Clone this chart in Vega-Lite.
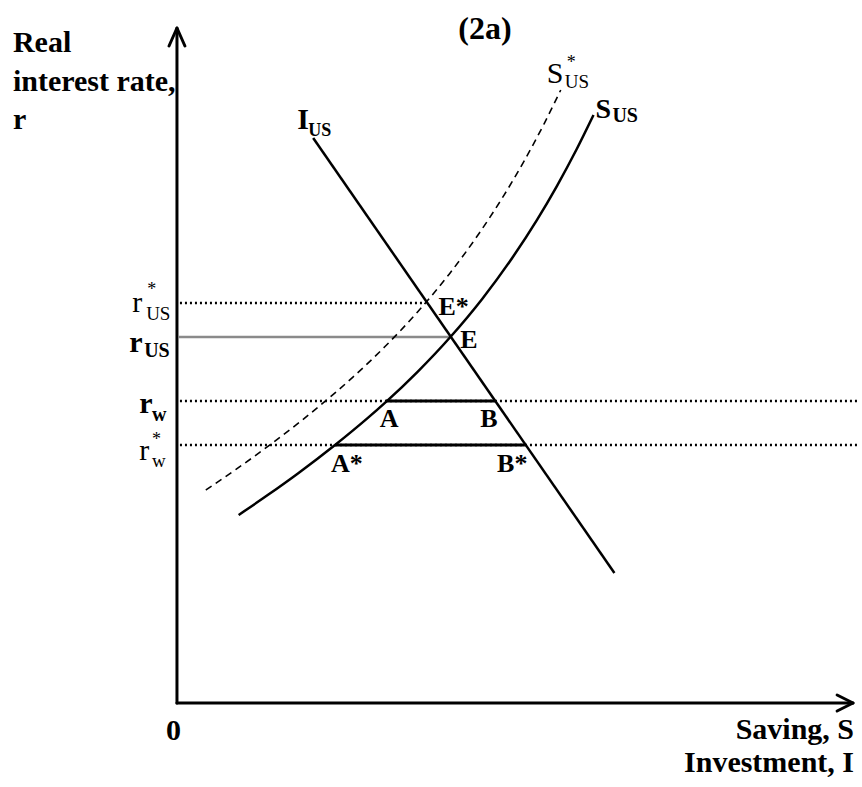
{
  "$schema": "https://vega.github.io/schema/vega-lite/v6.json",
  "width": 862,
  "height": 787,
  "autosize": {"type": "fit", "contains": "padding"},
  "padding": 0,
  "background": "white",
  "config": {"view": {"stroke": null}},
  "encoding": {
    "x": {"field": "x", "type": "quantitative", "axis": null, "scale": {"domain": [-178, 684], "nice": false, "zero": false}},
    "y": {"field": "y", "type": "quantitative", "axis": null, "scale": {"domain": [-84, 703], "nice": false, "zero": false}}
  },
  "layer": [
    {
      "data": {"values": [
        {"seg": "r*US", "x": 3, "y": 400}, {"seg": "r*US", "x": 250, "y": 400},
        {"seg": "rw", "x": 3, "y": 302}, {"seg": "rw", "x": 684, "y": 302},
        {"seg": "r*w", "x": 3, "y": 258}, {"seg": "r*w", "x": 684, "y": 258}
      ]},
      "mark": {"type": "line", "color": "black", "strokeWidth": 2.5, "strokeDash": [2, 3]},
      "encoding": {"detail": {"field": "seg"}}
    },
    {
      "data": {"values": [
        {"seg": "rUS", "x": 2, "y": 366}, {"seg": "rUS", "x": 275, "y": 366}
      ]},
      "mark": {"type": "line", "color": "#8a8a8a", "strokeWidth": 2.5},
      "encoding": {"detail": {"field": "seg"}}
    },
    {
      "data": {"values": [
        {"seg": "AB", "x": 210, "y": 302}, {"seg": "AB", "x": 320, "y": 302},
        {"seg": "A*B*", "x": 159, "y": 258}, {"seg": "A*B*", "x": 350, "y": 258}
      ]},
      "mark": {"type": "line", "color": "black", "strokeWidth": 3},
      "encoding": {"detail": {"field": "seg"}}
    },
    {
      "data": {"values": [
        {"x": 29, "y": 213}, {"x": 59, "y": 233.4}, {"x": 89, "y": 254.8}, {"x": 126, "y": 283},
        {"x": 159, "y": 310.1}, {"x": 177, "y": 325.9}, {"x": 209, "y": 356.2}, {"x": 242, "y": 391},
        {"x": 274, "y": 429.1}, {"x": 304, "y": 469.8}, {"x": 329, "y": 507.9}, {"x": 349, "y": 541.7},
        {"x": 369, "y": 578.7}, {"x": 386, "y": 613}
      ]},
      "mark": {"type": "line", "color": "black", "strokeWidth": 1.6, "strokeDash": [7, 5], "interpolate": "monotone"},
      "encoding": {}
    },
    {
      "data": {"values": [
        {"seg": "S", "x": 62, "y": 188}, {"seg": "S", "x": 92, "y": 208.4}, {"seg": "S", "x": 122, "y": 229.8},
        {"seg": "S", "x": 159, "y": 258}, {"seg": "S", "x": 192, "y": 285.1}, {"seg": "S", "x": 210, "y": 300.9},
        {"seg": "S", "x": 242, "y": 331.2}, {"seg": "S", "x": 275, "y": 366}, {"seg": "S", "x": 307, "y": 404.1},
        {"seg": "S", "x": 337, "y": 444.8}, {"seg": "S", "x": 362, "y": 482.9}, {"seg": "S", "x": 382, "y": 516.7},
        {"seg": "S", "x": 402, "y": 553.7}, {"seg": "S", "x": 419, "y": 588},
        {"seg": "I", "x": 137, "y": 565}, {"seg": "I", "x": 440, "y": 130}
      ]},
      "mark": {"type": "line", "color": "black", "strokeWidth": 2.5, "interpolate": "monotone"},
      "encoding": {"detail": {"field": "seg"}}
    },
    {
      "data": {"values": [
        {"seg": "yaxis", "x": 0, "y": 0}, {"seg": "yaxis", "x": 0, "y": 674},
        {"seg": "xaxis", "x": 0, "y": 0}, {"seg": "xaxis", "x": 679, "y": 0},
        {"seg": "ya1", "x": -8, "y": 657}, {"seg": "ya1", "x": 0, "y": 675},
        {"seg": "ya2", "x": 0, "y": 675}, {"seg": "ya2", "x": 8, "y": 657},
        {"seg": "xa1", "x": 664, "y": 8}, {"seg": "xa1", "x": 680, "y": 0},
        {"seg": "xa2", "x": 664, "y": -8}, {"seg": "xa2", "x": 680, "y": 0}
      ]},
      "mark": {"type": "line", "color": "black", "strokeWidth": 3, "strokeCap": "round"},
      "encoding": {"detail": {"field": "seg"}}
    },
    {
      "data": {"values": [
        {"x": 283, "y": 664, "t": "(2a)"}
      ]},
      "mark": {"type": "text", "font": "Liberation Serif", "fontWeight": "bold", "fontSize": 32, "align": "left", "baseline": "alphabetic", "color": "black"},
      "encoding": {"text": {"field": "t"}}
    },
    {
      "data": {"values": [
        {"x": -165, "y": 651, "t": "Real"},
        {"x": -165, "y": 612, "t": "interest rate,"},
        {"x": -165, "y": 574, "t": "r"},
        {"x": -11, "y": -37, "t": "0"},
        {"x": 121, "y": 574, "t": "I"},
        {"x": -48, "y": 351, "t": "r"},
        {"x": -38, "y": 290, "t": "r"}
      ]},
      "mark": {"type": "text", "font": "Liberation Serif", "fontWeight": "bold", "fontSize": 30, "align": "left", "baseline": "alphabetic", "color": "black"},
      "encoding": {"text": {"field": "t"}}
    },
    {
      "data": {"values": [
        {"x": 421, "y": 585, "t": "S"}
      ]},
      "mark": {"type": "text", "font": "Liberation Serif", "fontWeight": "bold", "fontSize": 28, "align": "left", "baseline": "alphabetic", "color": "black"},
      "encoding": {"text": {"field": "t"}}
    },
    {
      "data": {"values": [
        {"x": 681, "y": -36, "t": "Saving, S"},
        {"x": 681, "y": -69, "t": "Investment, I"}
      ]},
      "mark": {"type": "text", "font": "Liberation Serif", "fontWeight": "bold", "fontSize": 30, "align": "right", "baseline": "alphabetic", "color": "black"},
      "encoding": {"text": {"field": "t"}}
    },
    {
      "data": {"values": [
        {"x": 372, "y": 620, "t": "S"},
        {"x": -45, "y": 391, "t": "r"},
        {"x": -38, "y": 243, "t": "r"}
      ]},
      "mark": {"type": "text", "font": "Liberation Serif", "fontSize": 30, "align": "left", "baseline": "alphabetic", "color": "black"},
      "encoding": {"text": {"field": "t"}}
    },
    {
      "data": {"values": [
        {"x": 438, "y": 581, "t": "US"},
        {"x": -33, "y": 346, "t": "US"},
        {"x": -25, "y": 282, "t": "w"}
      ]},
      "mark": {"type": "text", "font": "Liberation Serif", "fontWeight": "bold", "fontSize": 20, "align": "left", "baseline": "alphabetic", "color": "black"},
      "encoding": {"text": {"field": "t"}}
    },
    {
      "data": {"values": [
        {"x": 132, "y": 567, "t": "US"}
      ]},
      "mark": {"type": "text", "font": "Liberation Serif", "fontWeight": "bold", "fontSize": 18, "align": "left", "baseline": "alphabetic", "color": "black"},
      "encoding": {"text": {"field": "t"}}
    },
    {
      "data": {"values": [
        {"x": 390, "y": 615, "t": "US"},
        {"x": -31, "y": 383, "t": "US"},
        {"x": -25, "y": 236, "t": "w"}
      ]},
      "mark": {"type": "text", "font": "Liberation Serif", "fontSize": 19, "align": "left", "baseline": "alphabetic", "color": "black"},
      "encoding": {"text": {"field": "t"}}
    },
    {
      "data": {"values": [
        {"x": 392, "y": 635, "t": "*"},
        {"x": -30, "y": 408, "t": "*"},
        {"x": -25, "y": 258, "t": "*"}
      ]},
      "mark": {"type": "text", "font": "Liberation Serif", "fontSize": 18, "align": "left", "baseline": "alphabetic", "color": "black"},
      "encoding": {"text": {"field": "t"}}
    },
    {
      "data": {"values": [
        {"x": 263, "y": 388, "t": "E*"},
        {"x": 285, "y": 355, "t": "E"},
        {"x": 204, "y": 276, "t": "A"},
        {"x": 305, "y": 276, "t": "B"},
        {"x": 155, "y": 231, "t": "A*"},
        {"x": 322, "y": 231, "t": "B*"}
      ]},
      "mark": {"type": "text", "font": "Liberation Serif", "fontWeight": "bold", "fontSize": 26, "align": "left", "baseline": "alphabetic", "color": "black"},
      "encoding": {"text": {"field": "t"}}
    }
  ]
}
